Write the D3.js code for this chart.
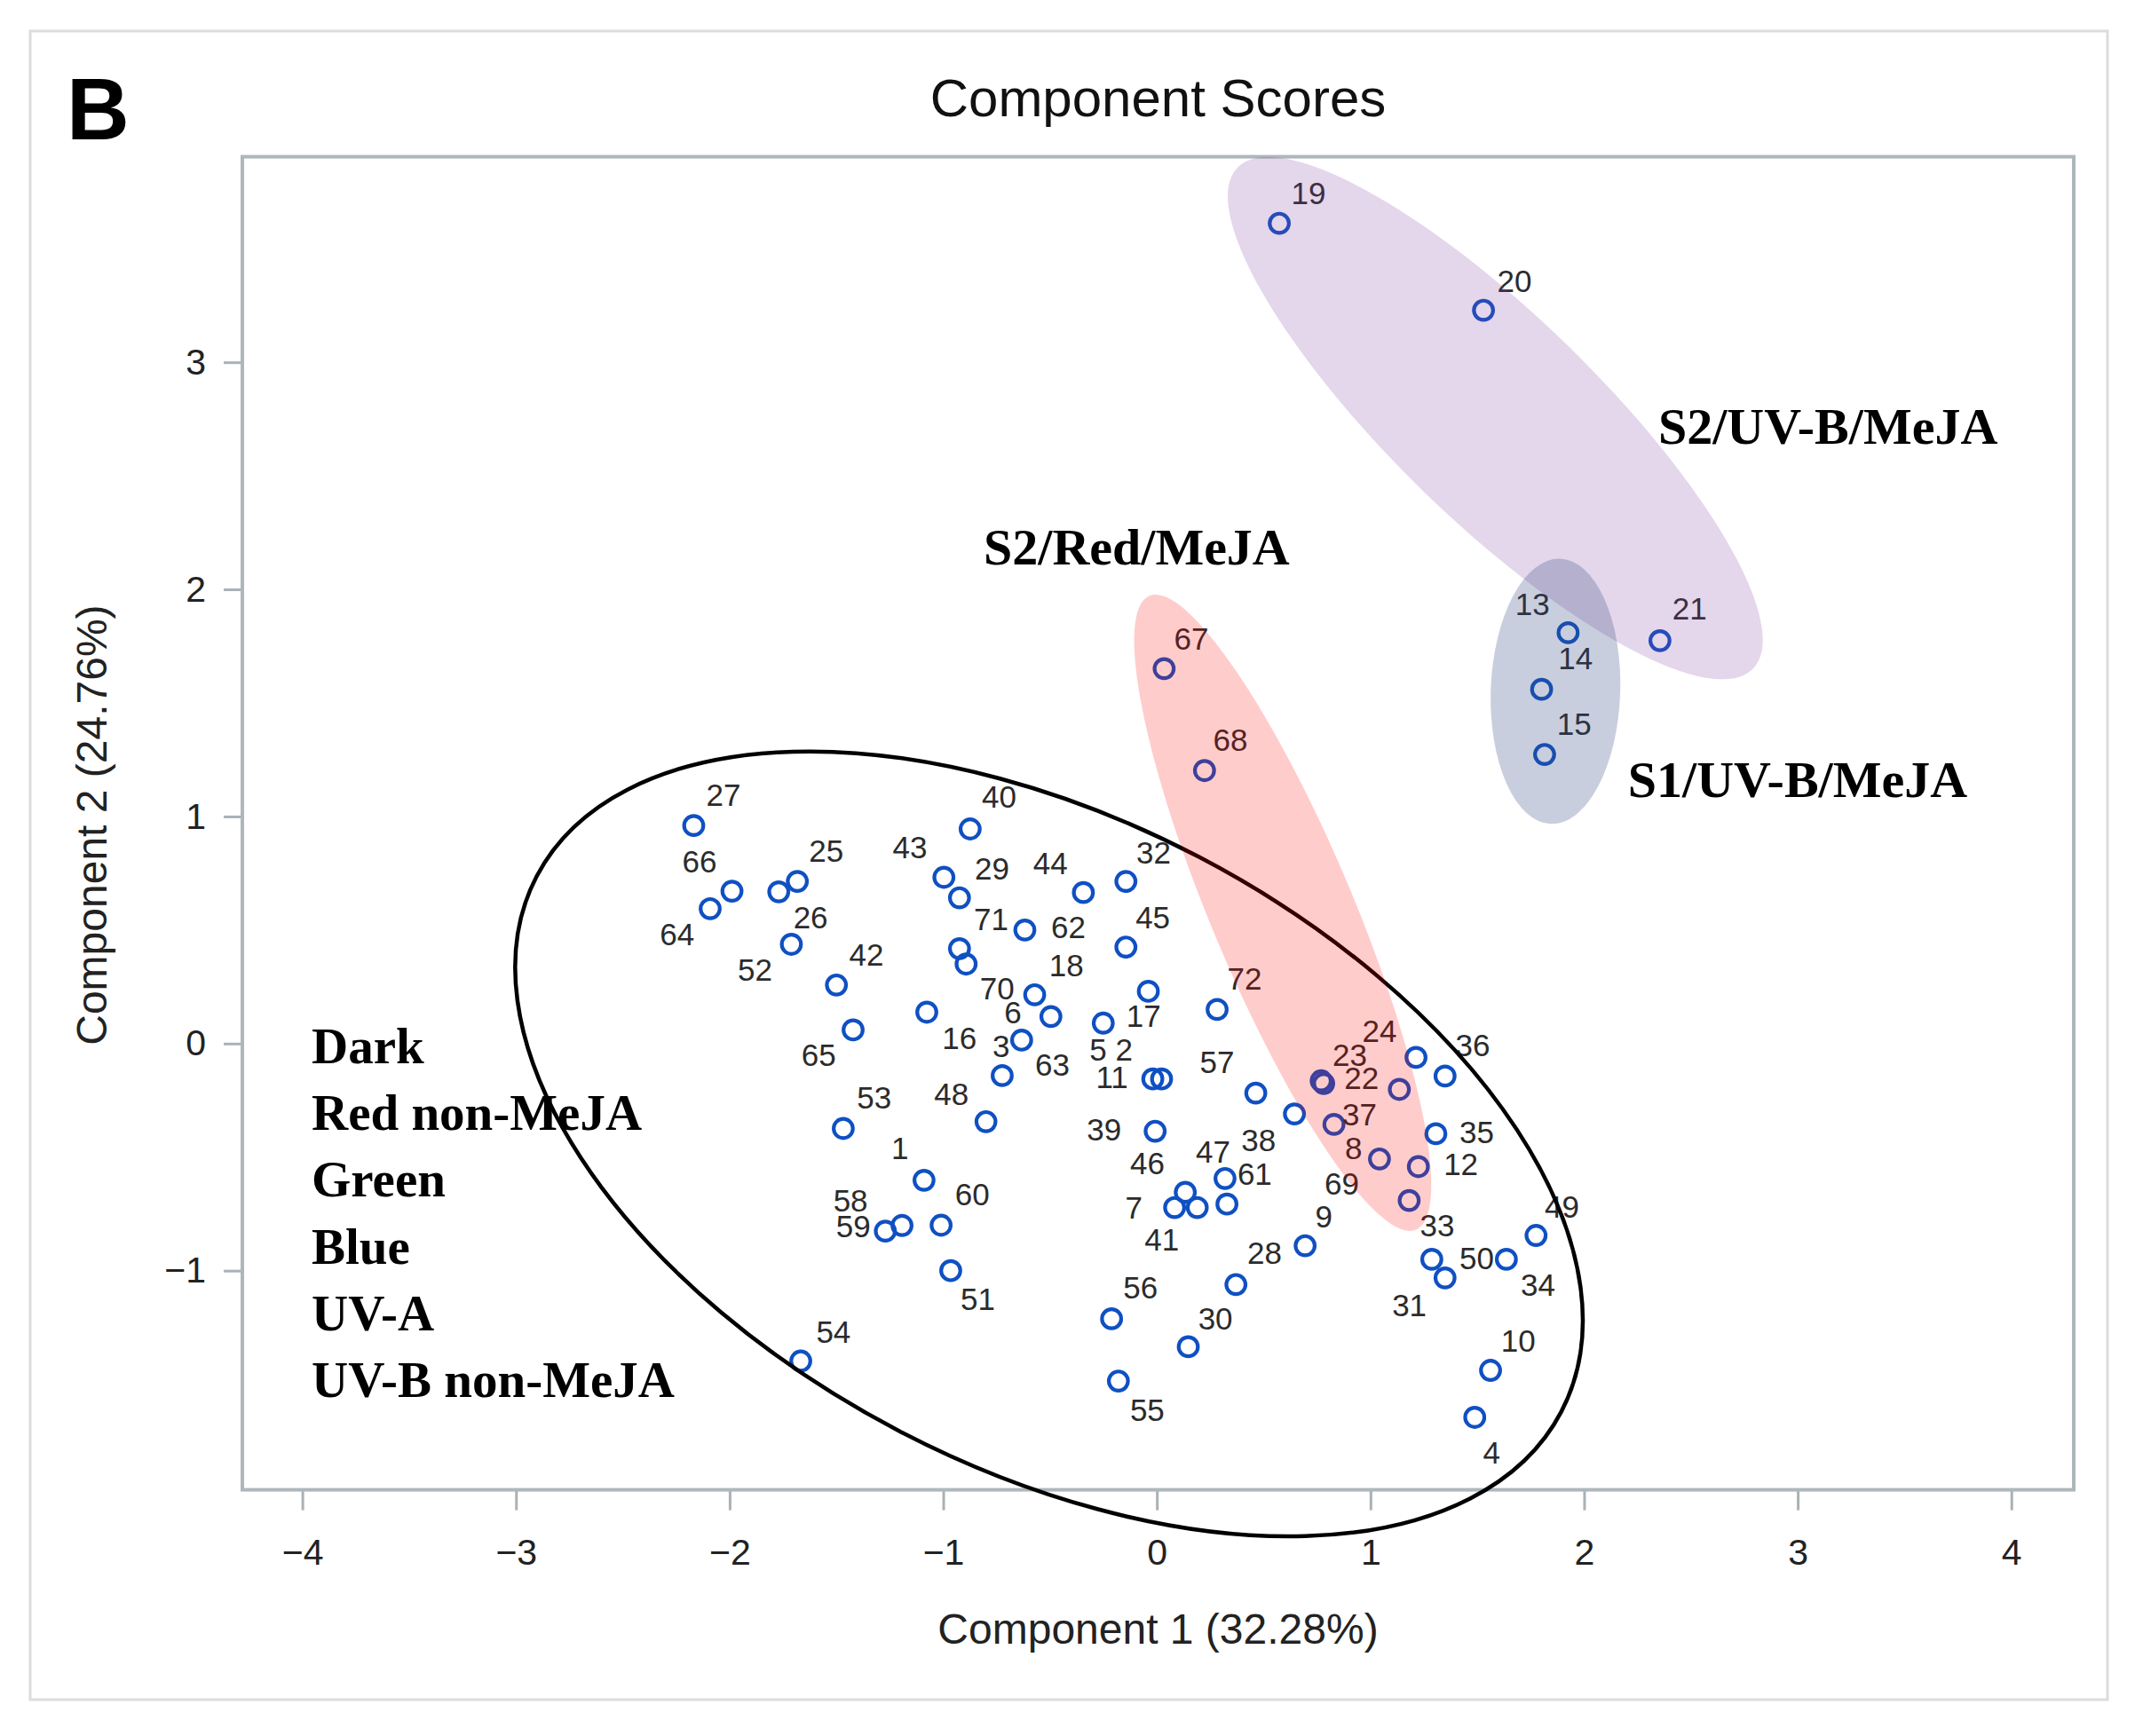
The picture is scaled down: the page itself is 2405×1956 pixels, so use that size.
<!DOCTYPE html>
<html>
<head>
<meta charset="utf-8">
<script src="https://cdn.jsdelivr.net/npm/d3@7"></script>
<style>
  body { margin: 0; background: #fff; }
  svg { display: block; }
</style>
</head>
<body>
<svg width="2405" height="1956"></svg>
<script>
// Sample numbers 1..72 and their component scores
const sampleIds = d3.range(1, 73);
const comp1 = [
  -1.090, 0.022, -0.724, 1.488, -0.251, -0.496, 0.083, 1.042, 0.694, 1.562,
  -0.019, 1.224, 1.925, 1.801, 1.815, -1.077, -0.040, -0.572, 0.573, 1.529,
  2.355, 1.135, 0.769, 1.213, -1.683, -1.770, -2.168, 0.370, -0.924, 0.147,
  1.349, -0.145, 1.181, 1.636, 1.306, 1.349, 0.829, 0.644, -0.008, -0.874,
  0.189, -1.500, -0.997, -0.344, -0.145, 0.133, 0.319, -0.800, 1.775, 1.287,
  -0.965, -1.711, -1.468, -1.667, -0.180, -0.212, 0.463, -1.193, -1.271, -1.010,
  0.328, -0.618, -0.633, -2.091, -1.422, -1.989, 0.034, 0.223, 0.781, -0.893,
  -0.924, 0.282
];
const comp2 = [
  -0.602, -0.156, -0.141, -1.646, 0.090, 0.119, -0.722, -0.508, -0.890, -1.439,
  -0.156, -0.542, 1.809, 1.560, 1.273, 0.138, 0.230, 0.215, 3.612, 3.229,
  1.774, -0.202, -0.164, -0.061, 0.714, 0.668, 0.960, -1.061, 0.642, -1.335,
  -1.032, 0.714, -0.691, -0.950, -0.397, -0.143, -0.356, -0.310, -0.386, 0.945,
  -0.722, 0.258, 0.732, 0.665, 0.425, -0.655, -0.594, -0.344, -0.845, -0.950,
  -1.000, 0.437, -0.374, -1.398, -1.486, -1.212, -0.218, -0.801, -0.826, -0.800,
  -0.707, 0.500, 0.015, 0.594, 0.060, 0.671, 1.651, 1.202, -0.176, 0.350,
  0.418, 0.150
];
// where each sample number is written (centre of the text, in score units)
const labelComp1 = [
  -1.203, -0.154, -0.729, 1.567, -0.275, -0.674, -0.108, 0.921, 0.782, 1.692,
  -0.210, 1.423, 1.758, 1.960, 1.953, -0.924, -0.062, -0.424, 0.710, 1.674,
  2.494, 0.958, 0.903, 1.042, -1.548, -1.621, -2.029, 0.504, -0.772, 0.274,
  1.182, -0.015, 1.312, 1.784, 1.497, 1.479, 0.949, 0.476, -0.247, -0.738,
  0.023, -1.360, -1.156, -0.498, -0.019, -0.044, 0.263, -0.962, 1.896, 1.497,
  -0.838, -1.881, -1.323, -1.514, -0.045, -0.077, 0.282, -1.434, -1.421, -0.864,
  0.458, -0.414, -0.489, -2.246, -1.583, -2.141, 0.161, 0.344, 0.866, -0.748,
  -0.776, 0.411
];
const labelComp2 = [
  -0.460, -0.026, -0.011, -1.801, -0.026, 0.138, -0.722, -0.460, -0.759, -1.309,
  -0.146, -0.531, 1.937, 1.697, 1.410, 0.026, 0.123, 0.347, 3.747, 3.360,
  1.918, -0.153, -0.049, 0.056, 0.848, 0.557, 1.095, -0.920, 0.773, -1.212,
  -1.152, 0.841, -0.801, -1.063, -0.389, -0.008, -0.310, -0.423, -0.378, 1.087,
  -0.863, 0.392, 0.863, 0.796, 0.557, -0.528, -0.475, -0.221, -0.718, -0.943,
  -1.123, 0.325, -0.236, -1.270, -1.613, -1.073, -0.079, -0.690, -0.804, -0.665,
  -0.572, 0.512, -0.094, 0.482, -0.049, 0.803, 1.782, 1.339, -0.617, 0.242,
  0.549, 0.288
];

const xTicks = [-4, -3, -2, -1, 0, 1, 2, 3, 4];
const yTicks = [-1, 0, 1, 2, 3];

// treatment list written in the lower left, and group annotations
const treatmentNames = ['Dark', 'Red non-MeJA', 'Green', 'Blue', 'UV-A', 'UV-B non-MeJA'];
const groupNames = ['S2/UV-B/MeJA', 'S2/Red/MeJA', 'S1/UV-B/MeJA'];
const groupLabelComp1 = [2.347, -0.811, 2.205];
const groupLabelComp2 = [2.641, 2.109, 1.086];

// grouping ellipses: centre (scores), semi-axes (component-1 units), tilt in degrees
const ellipseNames = ['non-MeJA', 'S2/Red/MeJA', 'S2/UV-B/MeJA', 'S1/UV-B/MeJA'];
const ellipseComp1 = [-0.505, 0.589, 1.584, 1.866];
const ellipseComp2 = [-0.442, 0.576, 2.754, 1.551];
const ellipseMajor = [2.706, 1.610, 1.683, 0.621];
const ellipseMinor = [1.516, 0.333, 0.480, 0.303];
const ellipseTilt = [27.6, 67.2, 44.2, 92];

const svg = d3.select('svg');
const sans = '"Liberation Sans", Arial, sans-serif';
const serif = '"Liberation Serif", "Times New Roman", serif';

// Plot box
const box = { left: 273, right: 2336, top: 176.6, bottom: 1678.6 };
const x = d3.scaleLinear().domain([-4.281, 4.292]).range([box.left, box.right]);
const y = d3.scaleLinear().domain([-1.965, 3.905]).range([box.bottom, box.top]);
const unit = x(1) - x(0);

// outer frame
svg.append('rect')
    .attr('x', 34).attr('y', 35).attr('width', 2340).attr('height', 1880)
    .attr('fill', 'none').attr('stroke', '#dcdcdc').attr('stroke-width', 3);

// panel letter and title
svg.append('text')
    .attr('x', 75).attr('y', 157)
    .attr('font-family', sans).attr('font-weight', 'bold').attr('font-size', 98)
    .attr('fill', '#000').text('B');
svg.append('text')
    .attr('x', (box.left + box.right) / 2).attr('y', 131)
    .attr('text-anchor', 'middle')
    .attr('font-family', sans).attr('font-size', 60)
    .attr('fill', '#111').text('Component Scores');

// Axes
const intFormat = d3.format('d');
const xAxis = svg.append('g')
    .attr('transform', `translate(0,${box.bottom})`)
    .call(d3.axisBottom(x).tickValues(xTicks).tickFormat(intFormat).tickSize(23).tickPadding(32));
const yAxis = svg.append('g')
    .attr('transform', `translate(${box.left},0)`)
    .call(d3.axisLeft(y).tickValues(yTicks).tickFormat(intFormat).tickSize(21).tickPadding(20));
[xAxis, yAxis].forEach((g) => {
    g.select('.domain').remove();
    g.selectAll('line').attr('stroke', '#a9b2b6').attr('stroke-width', 3);
    g.selectAll('text')
        .attr('font-family', sans).attr('font-size', 41).attr('fill', '#222');
});

svg.append('rect')
    .attr('x', box.left).attr('y', box.top)
    .attr('width', box.right - box.left).attr('height', box.bottom - box.top)
    .attr('fill', 'none').attr('stroke', '#aeb7bb').attr('stroke-width', 4);

// Axis titles
svg.append('text')
    .attr('x', (box.left + box.right) / 2).attr('y', 1852)
    .attr('text-anchor', 'middle')
    .attr('font-family', sans).attr('font-size', 48).attr('fill', '#222')
    .text('Component 1 (32.28%)');
svg.append('text')
    .attr('transform', `translate(120,${(box.top + box.bottom) / 2 + 2}) rotate(-90)`)
    .attr('text-anchor', 'middle')
    .attr('font-family', sans).attr('font-size', 48).attr('fill', '#222')
    .text('Component 2 (24.76%)');

// Points and their numbers
const samples = sampleIds.map((id, i) => ({
    id, c1: comp1[i], c2: comp2[i], l1: labelComp1[i], l2: labelComp2[i]
}));

svg.append('g').attr('class', 'points')
    .selectAll('circle')
    .data(samples)
    .enter()
    .append('circle')
    .attr('cx', (d) => x(d.c1))
    .attr('cy', (d) => y(d.c2))
    .attr('r', 10.8)
    .attr('fill', 'none')
    .attr('stroke', '#0f50c2')
    .attr('stroke-width', 4.2);

svg.append('g').attr('class', 'labels')
    .selectAll('text')
    .data(samples)
    .enter()
    .append('text')
    .attr('x', (d) => x(d.l1))
    .attr('y', (d) => y(d.l2))
    .attr('text-anchor', 'middle')
    .attr('dominant-baseline', 'central')
    .attr('font-family', sans)
    .attr('font-size', 35)
    .attr('fill', '#2b2b2b')
    .text((d) => d.id);

// Ellipses drawn over the points, the way the figure was annotated
const ellipses = ellipseNames.map((name, i) => ({
    name, c1: ellipseComp1[i], c2: ellipseComp2[i],
    a: ellipseMajor[i], b: ellipseMinor[i], tilt: ellipseTilt[i]
}));
const ellipseFill = {
    'non-MeJA': 'none',
    'S2/Red/MeJA': 'rgba(255,0,0,0.2)',
    'S2/UV-B/MeJA': 'rgba(128,60,160,0.21)',
    'S1/UV-B/MeJA': 'rgba(50,75,130,0.27)'
};

svg.append('g').attr('class', 'ellipses')
    .selectAll('ellipse')
    .data(ellipses)
    .enter()
    .append('ellipse')
    .attr('transform', (d) => `translate(${x(d.c1)},${y(d.c2)}) rotate(${d.tilt})`)
    .attr('rx', (d) => d.a * unit)
    .attr('ry', (d) => d.b * unit)
    .attr('fill', (d) => ellipseFill[d.name])
    .attr('stroke', (d) => (d.name === 'non-MeJA' ? '#000' : 'none'))
    .attr('stroke-width', 4.5);

// Group names
svg.append('g').attr('class', 'group-names')
    .selectAll('text')
    .data(groupNames)
    .enter()
    .append('text')
    .attr('x', (d, i) => x(groupLabelComp1[i]))
    .attr('y', (d, i) => y(groupLabelComp2[i]))
    .attr('font-family', serif)
    .attr('font-weight', 'bold')
    .attr('font-size', 58)
    .attr('fill', '#000')
    .text((d) => d);

// Treatments inside the black ellipse
svg.append('g').attr('class', 'treatments')
    .selectAll('text')
    .data(treatmentNames)
    .enter()
    .append('text')
    .attr('x', 351)
    .attr('y', (d, i) => 1198 + i * 75.2)
    .attr('font-family', serif)
    .attr('font-weight', 'bold')
    .attr('font-size', 57)
    .attr('fill', '#000')
    .text((d) => d);
</script>
</body>
</html>
